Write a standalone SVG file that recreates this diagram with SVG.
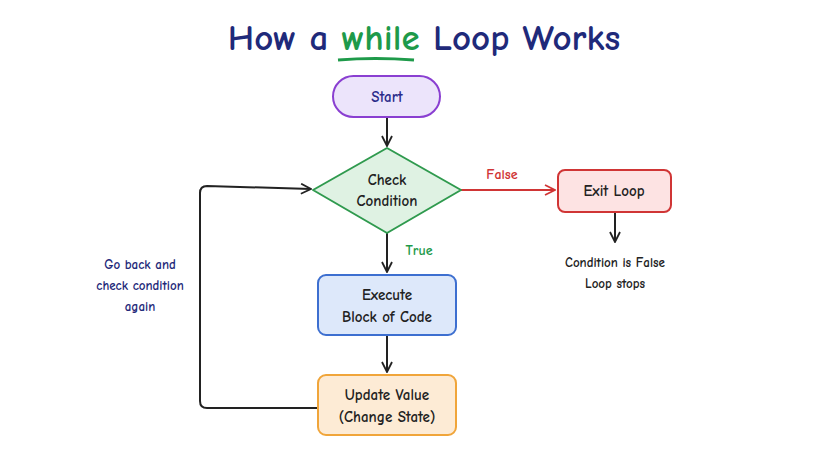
<svg xmlns="http://www.w3.org/2000/svg" width="836" height="471" viewBox="0 0 836 471">
<defs>
<style>
text{font-family:"Comic Neue","Liberation Sans",sans-serif;text-anchor:middle;font-weight:bold}
.n{font-size:15px;fill:#222}
.c{fill:none;stroke:#222;stroke-width:2}
</style>
<marker id="a" viewBox="0 0 12 12" refX="11" refY="6" markerWidth="12" markerHeight="12" markerUnits="userSpaceOnUse" orient="auto"><path d="M1 1L11 6L1 11" fill="none" stroke="#222" stroke-width="1.8"/></marker>
<marker id="r" viewBox="0 0 12 12" refX="11" refY="6" markerWidth="12" markerHeight="12" markerUnits="userSpaceOnUse" orient="auto"><path d="M1 1L11 6L1 11" fill="none" stroke="#d03535" stroke-width="1.8"/></marker>
</defs>
<rect width="836" height="471" fill="#fff"/>
<text x="424" y="50" font-size="37" fill="#1f2a7a">How a <tspan fill="#1e9a4a">while</tspan> Loop Works</text>
<path d="M338 60Q375 57 414 60" stroke="#1e9a4a" stroke-width="3" fill="none"/>
<g id="connectors">
<path class="c" d="M387 117V146" marker-end="url(#a)"/>
<path d="M461 190H555" stroke="#d03535" stroke-width="2" fill="none" marker-end="url(#r)"/>
<path class="c" d="M387 233V272" marker-end="url(#a)"/>
<path class="c" d="M387 335V372" marker-end="url(#a)"/>
<path class="c" d="M318 408H207Q200 408 200 401V193Q200 186 207 186L311 189" marker-end="url(#a)"/>
<path class="c" d="M615 212V242" marker-end="url(#a)"/>
<text x="502" y="179" font-size="14" fill="#d03535">False</text>
<text x="419" y="255" font-size="14" fill="#1e9a4a">True</text>
</g>
<g id="start"><rect x="333" y="76" width="107" height="41" rx="20.5" fill="#ece4fb" stroke="#8a3fd1" stroke-width="2"/><text class="n" x="387" y="102" fill="#2a2a8a" style="fill:#2a2a8a">Start</text></g>
<g id="check"><path d="M387 148L461 190L387 233L313 190Z" fill="#dff2e3" stroke="#2f9a4e" stroke-width="2" stroke-linejoin="round"/><text class="n" x="387" y="185">Check</text><text class="n" x="387" y="206">Condition</text></g>
<g id="exit"><rect x="558" y="170" width="113" height="42" rx="7" fill="#fde3e3" stroke="#d03535" stroke-width="2"/><text class="n" x="614" y="196">Exit Loop</text></g>
<g id="execute"><rect x="318" y="275" width="138" height="60" rx="8" fill="#dde8fa" stroke="#3d6fd0" stroke-width="2"/><text class="n" x="387" y="300">Execute</text><text class="n" x="387" y="322">Block of Code</text></g>
<g id="update"><rect x="318" y="375" width="138" height="60" rx="8" fill="#fdebd5" stroke="#f0a53a" stroke-width="2"/><text class="n" x="387" y="400">Update Value</text><text class="n" x="387" y="422">(Change State)</text></g>
<g id="note"><text x="615" y="267" font-size="13" fill="#222">Condition is False</text><text x="615" y="288" font-size="13" fill="#222">Loop stops</text></g>
<g id="goback"><text x="140" y="269" font-size="13" fill="#1f2a7a">Go back and</text><text x="140" y="290" font-size="13" fill="#1f2a7a">check condition</text><text x="140" y="311" font-size="13" fill="#1f2a7a">again</text></g>
</svg>
